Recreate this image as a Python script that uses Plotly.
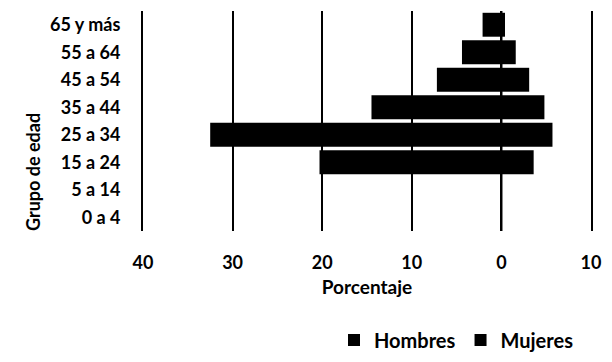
import plotly.graph_objects as go

# Age groups (bottom to top) and percentage of each sex
grupos = ["0 a 4", "5 a 14", "15 a 24", "25 a 34", "35 a 44", "45 a 54", "55 a 64", "65 y más"]
hombres = [0, 0, 20.3, 32.5, 14.5, 7.2, 4.4, 2.1]
mujeres = [0, 0, 3.6, 5.7, 4.8, 3.1, 1.6, 0.4]

tick_vals = [-40, -30, -20, -10, 0, 10]
tick_text = ["40", "30", "20", "10", "0", "10"]

FONT = "Lato"
fs = 18
bold = dict(family=FONT, size=fs, color="black", weight="bold")

fig = go.Figure()
# Men drawn to the left of zero, women to the right
fig.add_trace(go.Bar(
    y=grupos, x=[-v for v in hombres], name="Hombres", orientation="h",
    marker=dict(color="black", line=dict(width=0)),
))
fig.add_trace(go.Bar(
    y=grupos, x=mujeres, name="Mujeres", orientation="h",
    marker=dict(color="black", line=dict(width=0)),
))

# thin filled strip at 0 percent across the full plot height
fig.add_shape(type="rect", xref="x", yref="y domain",
              x0=-0.12, x1=0.12, y0=0, y1=1,
              fillcolor="black", line=dict(width=0), layer="above")

fig.update_layout(
    width=612, height=362,
    margin=dict(l=143, r=13, t=11, b=131),
    paper_bgcolor="white", plot_bgcolor="white",
    barmode="relative", bargap=0.13,
    font=bold,
    showlegend=True,
    legend=dict(
        orientation="h", xref="container", yref="container",
        x=334 / 612, xanchor="left", y=(362 - 340) / 362, yanchor="middle",
        font=dict(family=FONT, size=20, color="black", weight="bold"),
        itemwidth=30, tracegroupgap=0,
    ),
    xaxis=dict(
        range=[-40, 10], tickvals=tick_vals, ticktext=tick_text,
        showgrid=True, gridcolor="black", gridwidth=2,
        zeroline=True, zerolinecolor="black", zerolinewidth=2,
        showline=False, ticks="", ticklabelstandoff=19,
        tickfont=bold,
        title=dict(text="Porcentaje", standoff=8,
                   font=dict(family=FONT, size=19, color="black", weight="bold")),
    ),
    yaxis=dict(
        showgrid=False, zeroline=False,
        # left/right frame lines coincide with the 40 and 10 gridlines
        showline=True, mirror=True, linecolor="black", linewidth=2,
        ticks="", ticklabelstandoff=17,
        tickfont=bold,
    ),
    annotations=[dict(
        text="Grupo de edad", xref="paper", yref="paper",
        x=(31 - 143) / 456, y=(231 - 172) / 220,
        xanchor="center", yanchor="middle", textangle=-90, showarrow=False,
        font=bold,
    )],
)

fig.write_html("out.html")
